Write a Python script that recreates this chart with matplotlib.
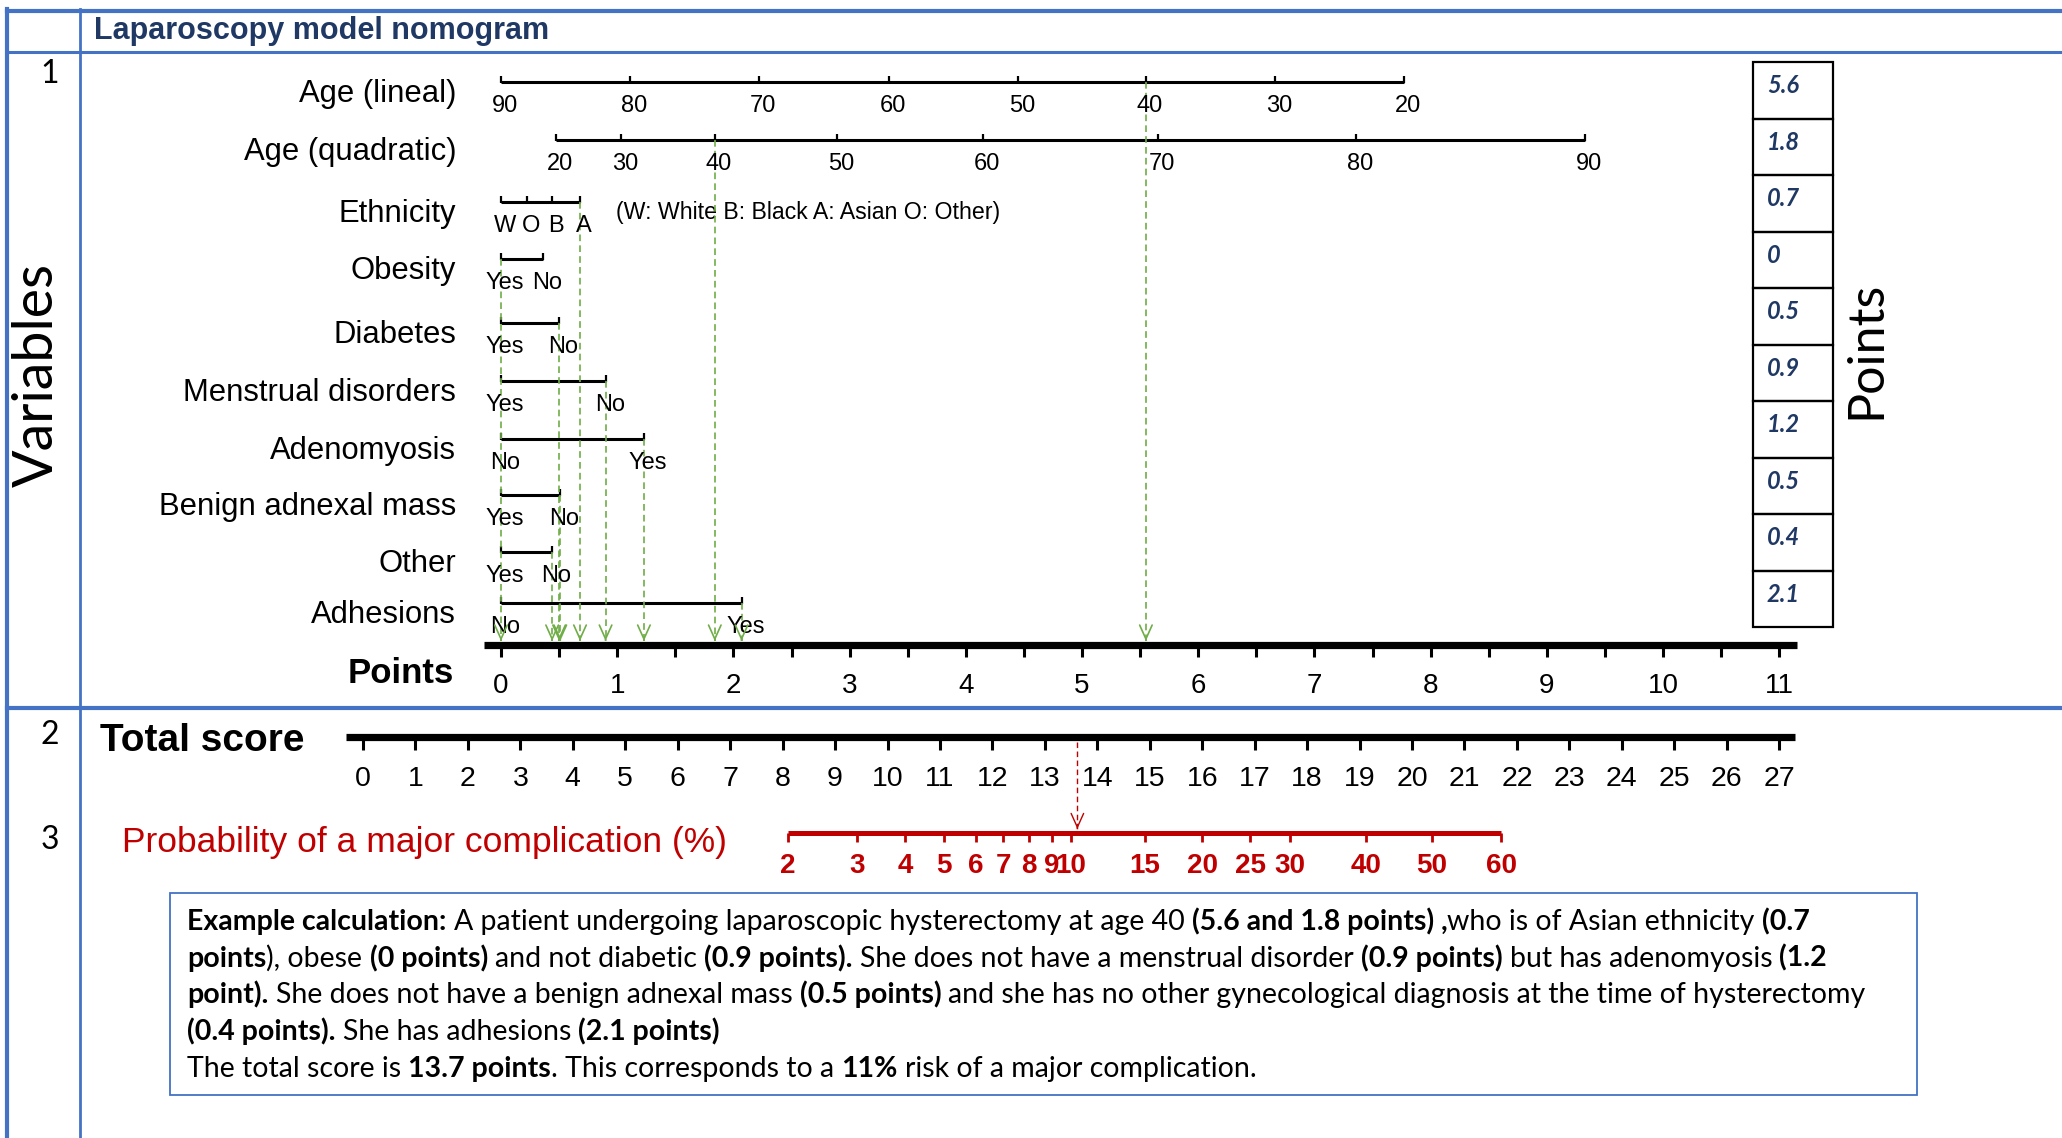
import numpy as np
import matplotlib
matplotlib.use("Agg")
import matplotlib.pyplot as plt
from matplotlib.patches import Rectangle

# ---- values ----
variables = ["Age (lineal)", "Age (quadratic)", "Ethnicity", "Obesity", "Diabetes",
             "Menstrual disorders", "Adenomyosis", "Benign adnexal mass", "Other", "Adhesions"]

age_lin_labels = ["90", "80", "70", "60", "50", "40", "30", "20"]
age_lin_pts = [0, 1.11, 2.22, 3.34, 4.45, 5.55, 6.66, 7.77]
age_quad_labels = ["20", "30", "40", "50", "60", "70", "80", "90"]
age_quad_pts = [0.47, 1.03, 1.84, 2.89, 4.15, 5.65, 7.36, 9.33]
eth_labels = ["W", "O", "B", "A"]
eth_pts = [0, 0.22, 0.44, 0.68]
obesity_labels = ["Yes", "No"]
obesity_pts = [0, 0.36]
diabetes_labels = ["Yes", "No"]
diabetes_pts = [0, 0.50]
menstrual_labels = ["Yes", "No"]
menstrual_pts = [0, 0.90]
adeno_labels = ["No", "Yes"]
adeno_pts = [0, 1.23]
adnexal_labels = ["Yes", "No"]
adnexal_pts = [0, 0.51]
other_labels = ["Yes", "No"]
other_pts = [0, 0.44]
adhesion_labels = ["No", "Yes"]
adhesion_pts = [0, 2.07]

example_choice = ["40", "40", "A", "Yes", "No", "No", "Yes", "No", "No", "Yes"]
example_points = ["5.6", "1.8", "0.7", "0", "0.5", "0.9", "1.2", "0.5", "0.4", "2.1"]

points_labels = list(range(0, 12))
points_minor = [i / 2 for i in range(0, 23)]
score_ticks = list(range(0, 28))
prob_labels = ["2", "3", "4", "5", "6", "7", "8", "9", "10", "15", "20", "25", "30", "40", "50", "60"]
prob_at_score = [8.10, 9.42, 10.34, 11.08, 11.68, 12.21, 12.70, 13.13, 13.50,
                 14.91, 16.00, 16.92, 17.68, 19.12, 20.38, 21.70]
example_total = 13.62

scales = [(age_lin_labels, age_lin_pts), (age_quad_labels, age_quad_pts),
          (eth_labels, eth_pts), (obesity_labels, obesity_pts),
          (diabetes_labels, diabetes_pts), (menstrual_labels, menstrual_pts),
          (adeno_labels, adeno_pts), (adnexal_labels, adnexal_pts),
          (other_labels, other_pts), (adhesion_labels, adhesion_pts)]

# ---- layout (pixels) ----
W, H = 2062, 1138
row_y = [82, 140, 202, 259, 323, 381, 439, 495, 552, 603]
pts_y, score_y, prob_y = 645, 737, 833
PTS0, PTS_UNIT = 501, 116.2
SC0, SC_UNIT = 363, 52.45

BLUE = "#4472C4"
NAVY = "#1F3864"
GREEN = "#70AD47"
RED = "#C00000"
ARIAL = "Liberation Sans"
CALIBRI = "Lato"

plt.rcParams["font.family"] = ARIAL

fig = plt.figure(figsize=(W / 100, H / 100), dpi=100)


def overlay(x0, x1):
    ax = fig.add_axes([0, 0, 1, 1])
    ax.set_xlim(x0, x1)
    ax.set_ylim(H, 0)
    ax.axis("off")
    ax.patch.set_alpha(0)
    return ax


ax_bg = overlay(0, W)
ax_p = overlay(-PTS0 / PTS_UNIT, (W - PTS0) / PTS_UNIT)
ax_s = overlay(-SC0 / SC_UNIT, (W - SC0) / SC_UNIT)


def arrow_head(ax, x, y, color, lw):
    ax.annotate("", xy=(x, y), xytext=(x, y - 1),
                arrowprops=dict(arrowstyle="->,head_length=1.0,head_width=0.45",
                                color=color, lw=lw, mutation_scale=10,
                                shrinkA=0, shrinkB=0))


# table frame
ax_bg.plot([7, W], [11, 11], color=BLUE, lw=3)
ax_bg.plot([7, W], [52, 52], color=BLUE, lw=2.2)
ax_bg.plot([7, W], [708, 708], color=BLUE, lw=3)
ax_bg.plot([7, 7], [9, H], color=BLUE, lw=3)
ax_bg.plot([80, 80], [9, H], color=BLUE, lw=2)

ax_bg.text(94, 39, "Laparoscopy model nomogram", fontsize=22, fontweight="bold",
           color=NAVY, va="baseline")
for num, yb in zip(["1", "2", "3"], [83, 744, 849]):
    ax_bg.text(50, yb, num, family=CALIBRI, fontsize=23, ha="center", va="baseline")
ax_bg.text(37, 375, "Variables", family=CALIBRI, fontsize=40, rotation=90,
           ha="center", va="center")
ax_bg.text(1866, 350, "Points", family=CALIBRI, fontsize=36, rotation=90,
           ha="center", va="center")

# variable scales
for i, (name, (labs, pts)) in enumerate(zip(variables, scales)):
    y = row_y[i]
    ax_p.plot([pts[0], pts[-1]], [y, y], color="black", lw=2.2, solid_capstyle="butt")
    ax_p.vlines(pts, y - 6, y + 1, color="black", lw=1.6)
    for lab, p in zip(labs, pts):
        ax_p.annotate(lab, (p, y), xytext=(3, -21.5), textcoords="offset points",
                      ha="center", va="baseline", fontsize=17)
    ax_bg.text(456, y + 20, name, ha="right", va="baseline", fontsize=22.3)

ax_bg.text(616, 219, "(W: White B: Black A: Asian O: Other)", fontsize=16.7, va="baseline")

# example path to the points axis
for i, (labs, pts) in enumerate(scales):
    p = pts[labs.index(example_choice[i])]
    ax_p.plot([p, p], [row_y[i], pts_y - 4], color=GREEN, lw=1.2, ls=(0, (4, 2.5)))
    arrow_head(ax_p, p, pts_y - 4, GREEN, 1.2)

# points axis
ax_p.plot([-0.15, 11.15], [pts_y, pts_y], color="black", lw=5.2, solid_capstyle="butt")
ax_p.vlines(points_minor, pts_y, pts_y + 12, color="black", lw=2.2)
for v in points_labels:
    ax_p.annotate(str(v), (v, pts_y), xytext=(0, -34.5), textcoords="offset points",
                  ha="center", va="baseline", fontsize=20)
ax_bg.text(454, 683, "Points", fontsize=25, fontweight="bold", ha="right", va="baseline")

# points column
cell_h = (627 - 62) / len(example_points)
for k, val in enumerate(example_points):
    top = 62 + k * cell_h
    ax_bg.add_patch(Rectangle((1753, top), 80, cell_h, fill=False, ec="black", lw=1.6))
    ax_bg.text(1767, top + cell_h * 0.42, val, family=CALIBRI, fontsize=17,
               fontweight="bold", fontstyle="italic", color=NAVY, va="center")

# total score axis
ax_s.plot([-0.33, 27.3], [score_y, score_y], color="black", lw=5.2, solid_capstyle="butt")
ax_s.vlines(score_ticks, score_y, score_y + 13, color="black", lw=2.2)
for v in score_ticks:
    ax_s.annotate(str(v), (v, score_y), xytext=(0, -35.5), textcoords="offset points",
                  ha="center", va="baseline", fontsize=20.5)
ax_bg.text(100, 751, "Total score", fontsize=28, fontweight="bold", va="baseline")

# probability axis
ax_s.plot([prob_at_score[0], prob_at_score[-1]], [prob_y, prob_y], color=RED, lw=3.6,
          solid_capstyle="butt")
ax_s.vlines(prob_at_score, prob_y, prob_y + 9, color=RED, lw=2)
for lab, s in zip(prob_labels, prob_at_score):
    ax_s.annotate(lab, (s, prob_y), xytext=(0, -29), textcoords="offset points",
                  ha="center", va="baseline", fontsize=20, fontweight="bold", color=RED)
ax_bg.text(122, 852, "Probability of a major complication (%)", fontsize=25.5,
           color=RED, va="baseline")

ax_s.plot([example_total, example_total], [score_y + 5, prob_y - 4], color=RED, lw=1,
          ls=(0, (4, 2.5)))
arrow_head(ax_s, example_total, prob_y - 4, RED, 1)

# example calculation box
ax_bg.add_patch(Rectangle((170, 893), 1747, 202, fill=False, ec=BLUE, lw=1.3))
box_lines = [
    [("Example calculation:", True), (" A patient undergoing laparoscopic hysterectomy at age 40 ", False),
     ("(5.6 and 1.8 points) ,", True), ("who is of Asian ethnicity ", False), ("(0.7", True)],
    [("points", True), ("), obese ", False), ("(0 points)", True), (" and not diabetic ", False),
     ("(0.9 points).", True), (" She does not have a menstrual disorder ", False),
     ("(0.9 points)", True), (" but has adenomyosis ", False), ("(1.2", True)],
    [("point).", True), (" She does not have a benign adnexal mass ", False), ("(0.5 points)", True),
     (" and she has no other gynecological diagnosis at the time of hysterectomy", False)],
    [("(0.4 points).", True), (" She has adhesions ", False), ("(2.1 points)", True)],
    [("The total score is ", False), ("13.7 points", True), (". This corresponds to a ", False),
     ("11%", True), (" risk of a major complication.", False)],
]
renderer = fig.canvas.get_renderer()


def width_of(s, size, bold):
    t = ax_bg.text(0, 0, s, family=CALIBRI, fontsize=size,
                   fontweight="bold" if bold else "normal")
    w = t.get_window_extent(renderer).width
    t.remove()
    return w


def draw_line(parts, x, y, size, draw=True):
    for s, bold in parts:
        sw = width_of("a a", size, bold) - width_of("aa", size, bold)
        core = s.strip(" ")
        x += sw * (len(s) - len(s.lstrip(" ")))
        if draw:
            ax_bg.text(x, y, core, family=CALIBRI, fontsize=size,
                       fontweight="bold" if bold else "normal", va="baseline")
        x += width_of(core, size, bold)
        x += sw * (len(s) - len(s.rstrip(" ")))
    return x


size = 20
size = size * (1810 - 187) / (draw_line(box_lines[0], 187, 0, size, draw=False) - 187)
for k, parts in enumerate(box_lines):
    draw_line(parts, 187, 930 + k * 36.7, size)

fig.savefig("out.png", dpi=100)
